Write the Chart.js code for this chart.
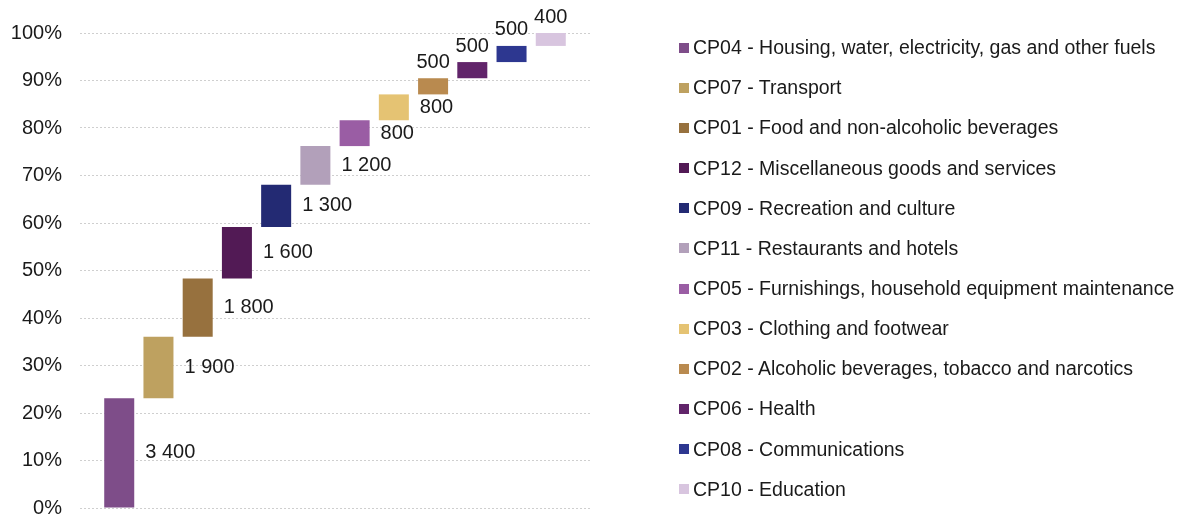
<!DOCTYPE html>
<html>
<head>
<meta charset="utf-8">
<script src="https://cdn.jsdelivr.net/npm/chart.js@4.4.1/dist/chart.umd.min.js"></script>
<style>
  html, body { margin: 0; padding: 0; background: #fff; overflow: hidden; }
  #wrap { position: relative; width: 1181px; height: 538px; }
  #legend {
    position: absolute; left: 679px; top: 27.6px;
    font-family: "Liberation Sans", Arial, sans-serif; font-size: 19.5px; color: #1a1a1a;
  }
  #legend .row { height: 40.15px; display: flex; align-items: center; white-space: nowrap; }
  #legend .box { width: 10px; height: 10px; margin-right: 4px; flex: none; }
</style>
</head>
<body>
<div id="wrap">
  <canvas id="chart"></canvas>
  <div id="legend"></div>
</div>
<script>
// Catégories (ordre du graphique) et valeurs
const categories = [
  "CP04 - Housing, water, electricity, gas and other fuels",
  "CP07 - Transport",
  "CP01 - Food and non-alcoholic beverages",
  "CP12 - Miscellaneous goods and services",
  "CP09 - Recreation and culture",
  "CP11 - Restaurants and hotels",
  "CP05 - Furnishings, household equipment maintenance",
  "CP03 - Clothing and footwear",
  "CP02 - Alcoholic beverages, tobacco and narcotics",
  "CP06 - Health",
  "CP08 - Communications",
  "CP10 - Education"
];
const values = [3400, 1900, 1800, 1600, 1300, 1200, 800, 800, 500, 500, 500, 400];
const colors = [
  "#7E4D89", "#BEA160", "#97713E", "#521A55", "#232A73", "#B2A0BA",
  "#9A5DA4", "#E5C373", "#B98A4F", "#61246A", "#2D3790", "#D8C5DF"
];
const yTicks = [0, 10, 20, 30, 40, 50, 60, 70, 80, 90, 100];

// les étiquettes à partir de cet index sont au-dessus de la barre
const labelsAboveFrom = 8;

// Cumul en % du total
const total = values.reduce((a, b) => a + b, 0);
let running = 0;
const floating = values.map((v, i) => {
  const start = running / total * 100;
  running += v;
  return { x: i, y: [start, running / total * 100] };
});

function fmt(n) {
  return String(n).replace(/\B(?=(\d{3})+(?!\d))/g, " ");
}

// Étiquettes de valeur
const valueLabels = {
  id: "valueLabels",
  afterDatasetsDraw(chart) {
    const ctx = chart.ctx;
    const meta = chart.getDatasetMeta(0);
    ctx.save();
    ctx.font = '20px "Liberation Sans", Arial, sans-serif';
    ctx.fillStyle = "#1a1a1a";
    meta.data.forEach((bar, i) => {
      const p = bar.getProps(["x", "y", "base", "width"], true);
      ctx.textBaseline = "middle";
      if (i < labelsAboveFrom) {
        ctx.textAlign = "left";
        ctx.fillText(fmt(values[i]), p.x + p.width / 2 + 11, (p.y + p.base) / 2);
      } else {
        ctx.textAlign = "center";
        ctx.fillText(fmt(values[i]), p.x, Math.min(p.y, p.base) - 16);
      }
    });
    ctx.restore();
  }
};

new Chart(document.getElementById("chart"), {
  type: "bar",
  data: {
    datasets: [{
      data: floating,
      backgroundColor: colors,
      categoryPercentage: 1,
      barPercentage: 0.765
    }]
  },
  options: {
    responsive: true,
    maintainAspectRatio: false,
    animation: false,
    layout: { padding: { left: 11, right: 591, top: 33, bottom: 12 } },
    plugins: { legend: { display: false }, tooltip: { enabled: false } },
    scales: {
      x: {
        type: "linear",
        min: -1,
        max: categories.length,
        offset: false,
        display: false,
        ticks: { stepSize: 1 }
      },
      y: {
        min: yTicks[0],
        max: yTicks[yTicks.length - 1],
        afterBuildTicks(scale) { scale.ticks = yTicks.map(v => ({ value: v })); },
        afterFit(scale) { scale.width = 69; },
        ticks: {
          padding: 18,
          color: "#1a1a1a",
          font: { family: '"Liberation Sans", Arial, sans-serif', size: 20 },
          callback: v => v + "%"
        },
        grid: { color: "#cfcfcf", drawTicks: false },
        border: { display: false, dash: [2, 2] }
      }
    }
  },
  plugins: [valueLabels]
});

// Légende HTML
const legendEl = document.getElementById("legend");
categories.forEach((c, i) => {
  const row = document.createElement("div");
  row.className = "row";
  const box = document.createElement("span");
  box.className = "box";
  box.style.background = colors[i];
  const txt = document.createElement("span");
  txt.textContent = c;
  row.appendChild(box);
  row.appendChild(txt);
  legendEl.appendChild(row);
});
</script>
</body>
</html>
